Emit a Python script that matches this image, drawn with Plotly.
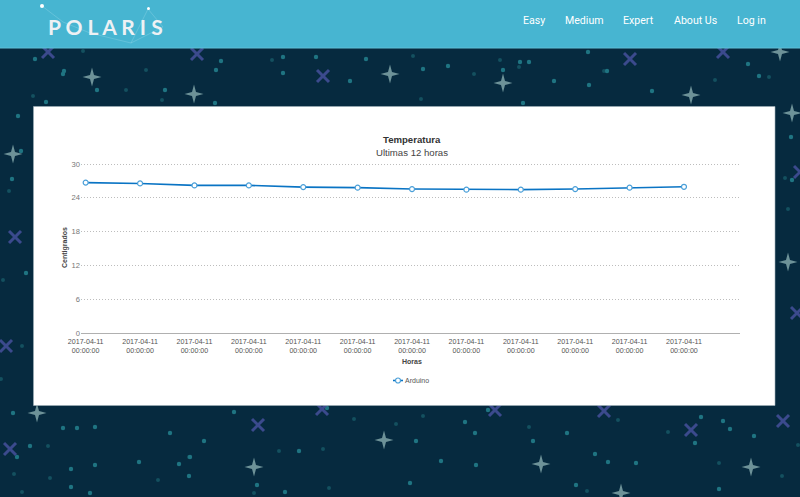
import plotly.graph_objects as go

W, H = 800, 497

# chart data
horas = list(range(12))
hora_labels = ['2017-04-11<br>00:00:00'] * 12
temperatura = [26.7, 26.55, 26.2, 26.2, 25.9, 25.8, 25.55, 25.45, 25.45, 25.55, 25.8, 25.95]
y_ticks = [0, 6, 12, 18, 24, 30]

# page wallpaper in pixels
plus_stars = [(92, 77), (194, 94), (390, 74), (503, 83), (691, 95), (780, 52), (13, 154), (788, 262), (792, 113),
              (37, 413), (254, 467), (384, 440), (541, 464), (751, 467), (621, 493)]
x_stars = [(48, 52), (197, 54), (323, 76), (630, 59), (723, 52), (15, 237), (6, 346), (797, 313), (800, 172),
           (258, 425), (322, 409), (10, 449), (495, 410), (604, 411), (691, 430), (783, 421)]
bright_dots = [(35, 59), (64, 71), (63, 74), (221, 61), (97, 90), (165, 90), (215, 103), (283, 57), (316, 57),
               (366, 59), (350, 81), (283, 73), (216, 70), (18, 116), (12, 179), (21, 151), (46, 102), (26, 273),
               (423, 69), (448, 66), (503, 70), (520, 62), (529, 62), (554, 81), (589, 85), (523, 103), (588, 52),
               (607, 71), (652, 91), (748, 64), (759, 76), (791, 137), (792, 180), (13, 413), (63, 428), (77, 428),
               (95, 427), (170, 433), (204, 441), (30, 446), (17, 457), (71, 469), (95, 465), (139, 462),
               (179, 464), (190, 457), (189, 476), (71, 487), (90, 493), (234, 412), (299, 451), (327, 408),
               (257, 485), (285, 492), (465, 422), (475, 433), (416, 441), (441, 461), (476, 465), (410, 483),
               (488, 410), (567, 433), (533, 441), (595, 454), (608, 462), (576, 485), (636, 463), (701, 417),
               (723, 421), (730, 429), (754, 436), (695, 443), (719, 489)]
dim_dots = [(83, 51), (146, 70), (126, 90), (162, 100), (272, 60), (413, 56), (474, 74), (500, 60), (519, 67),
            (421, 99), (604, 71), (715, 80), (769, 77), (785, 178), (788, 209), (3, 280), (9, 191), (33, 96),
            (22, 346), (1, 379), (48, 446), (14, 474), (50, 478), (22, 492), (158, 480), (189, 457), (279, 451),
            (354, 419), (396, 424), (323, 449), (254, 493), (329, 488), (423, 416), (529, 427), (618, 420),
            (668, 432), (587, 491), (719, 463), (782, 476), (798, 445)]
constellation = [(42, 6), (63, 22), (90, 33), (131, 43), (148, 9), (163, 27), (131, 43)]
nav_items = [('Easy', 534), ('Medium', 584), ('Expert', 638), ('About Us', 695), ('Log in', 751)]


def px(x):
    return x / W


def py(y):
    return 1 - y / H


def path_shape(points, **kw):
    d = 'M' + ' L'.join(f'{px(x):.5f},{py(y):.5f}' for x, y in points)
    return dict(type='path', xref='paper', yref='paper', path=d, layer='below', **kw)


def box(x0, y0, x1, y1, kind='rect', **kw):
    return dict(type=kind, xref='paper', yref='paper', x0=px(x0), x1=px(x1), y0=py(y1), y1=py(y0),
                layer='below', **kw)


def label(text, x, y, family='Liberation Sans', size=9.6, color='#333333', **kw):
    return dict(text=text, x=px(x), y=py(y), xref='paper', yref='paper', showarrow=False,
                xanchor='center', yanchor='middle', font=dict(family=family, size=size, color=color), **kw)


shapes = []
for x, y in dim_dots:
    shapes.append(box(x - 2, y - 2, x + 2, y + 2, 'circle', fillcolor='#14505f', line_width=0))
for x, y in bright_dots:
    shapes.append(box(x - 2.2, y - 2.2, x + 2.2, y + 2.2, 'circle', fillcolor='#1f7482', line_width=0))
for x, y in x_stars:
    shapes.append(path_shape([(x - 6, y - 6), (x + 6, y + 6)], line=dict(color='#3b4a8d', width=3)))
    shapes.append(path_shape([(x - 6, y + 6), (x + 6, y - 6)], line=dict(color='#3b4a8d', width=3)))
for x, y in plus_stars:
    shapes.append(path_shape([(x, y - 9.5), (x + 2, y - 2), (x + 9.5, y), (x + 2, y + 2), (x, y + 9.5),
                              (x - 2, y + 2), (x - 9.5, y), (x - 2, y - 2), (x, y - 9.5)],
                             fillcolor='#6d9298', line_width=0))
# header and white card go over the wallpaper
shapes.append(box(0, 0, W, 48, fillcolor='#47b5d1', line_width=0))
shapes.append(box(0, 47.5, W, 48.5, fillcolor='#5fc0d8', line_width=0))
shapes.append(box(33.5, 106.5, 775, 405.5, fillcolor='#ffffff', line=dict(color='#9db0b8', width=0.6)))
shapes.append(path_shape(constellation, line=dict(color='rgba(200,235,245,0.45)', width=0.5)))
shapes.append(box(40, 4, 44, 8, 'circle', fillcolor='#ffffff', line_width=0))
shapes.append(box(147, 7, 150, 10, 'circle', fillcolor='#ffffff', line_width=0))

fig = go.Figure(go.Scatter(
    x=horas, y=temperatura, name='Arduino', mode='lines+markers',
    line=dict(color='#0a74c4', width=1.6),
    marker=dict(size=5, color='#ffffff', line=dict(color='#4a9fd8', width=1.2)),
))

annotations = [label(t, x, 20.5, family='Roboto', size=10.6, color='#ffffff') for t, x in nav_items]
annotations.append(label('<b>P O L A R I S</b>', 105, 26, family='Lato', size=21, color='#eef1f4'))
annotations.append(label('<b>Temperatura</b>', 412, 139.5))
annotations.append(label('Ultimas 12 horas', 412, 152, color='#444444'))
annotations.append(label('<b>Horas</b>', 412, 361, size=7, color='#444444'))
annotations.append(label('<b>Centigrados</b>', 65, 248, size=7, color='#444444', textangle=-90))

fig.update_layout(
    width=W, height=H, margin=dict(l=0, r=0, t=0, b=0, autoexpand=False),
    paper_bgcolor='#062a3f', plot_bgcolor='rgba(0,0,0,0)',
    shapes=shapes, annotations=annotations,
    font=dict(family='Liberation Sans', size=8, color='#666666'),
    showlegend=True,
    legend=dict(orientation='h', x=px(365), y=py(366), xanchor='left', yanchor='top',
                font=dict(size=7, color='#555555'), bgcolor='rgba(0,0,0,0)'),
    xaxis=dict(domain=[px(81), px(740)], range=[-0.086, 12.03], tickvals=horas, ticktext=hora_labels,
               automargin=False, showgrid=False, zeroline=False, showline=True, linecolor='#b0b0b0',
               linewidth=1, ticks='', tickangle=0, ticklabelstandoff=1, tickfont=dict(size=7.1, color='#555555')),
    # 30 sits a little under the top so plotly keeps its gridline
    yaxis=dict(domain=[py(333), py(161.18)], range=[0, 30.5], tickvals=y_ticks, showgrid=True, automargin=False,
               gridcolor='#bdbdbd', griddash='1px,2px', gridwidth=1, zeroline=False, ticks='',
               tickfont=dict(size=7.6, color='#777777')),
)

# plotly's legend line is always 30px, the original one is much shorter
shorten_legend = """
document.body.style.margin='0';
document.querySelector('.legendlines path')?.setAttribute('d','M28,0h10');
document.querySelector('.legendpoints path')?.setAttribute('transform','translate(33,0)');
"""
fig.write_html('out.html', post_script=shorten_legend, config=dict(displayModeBar=False))
